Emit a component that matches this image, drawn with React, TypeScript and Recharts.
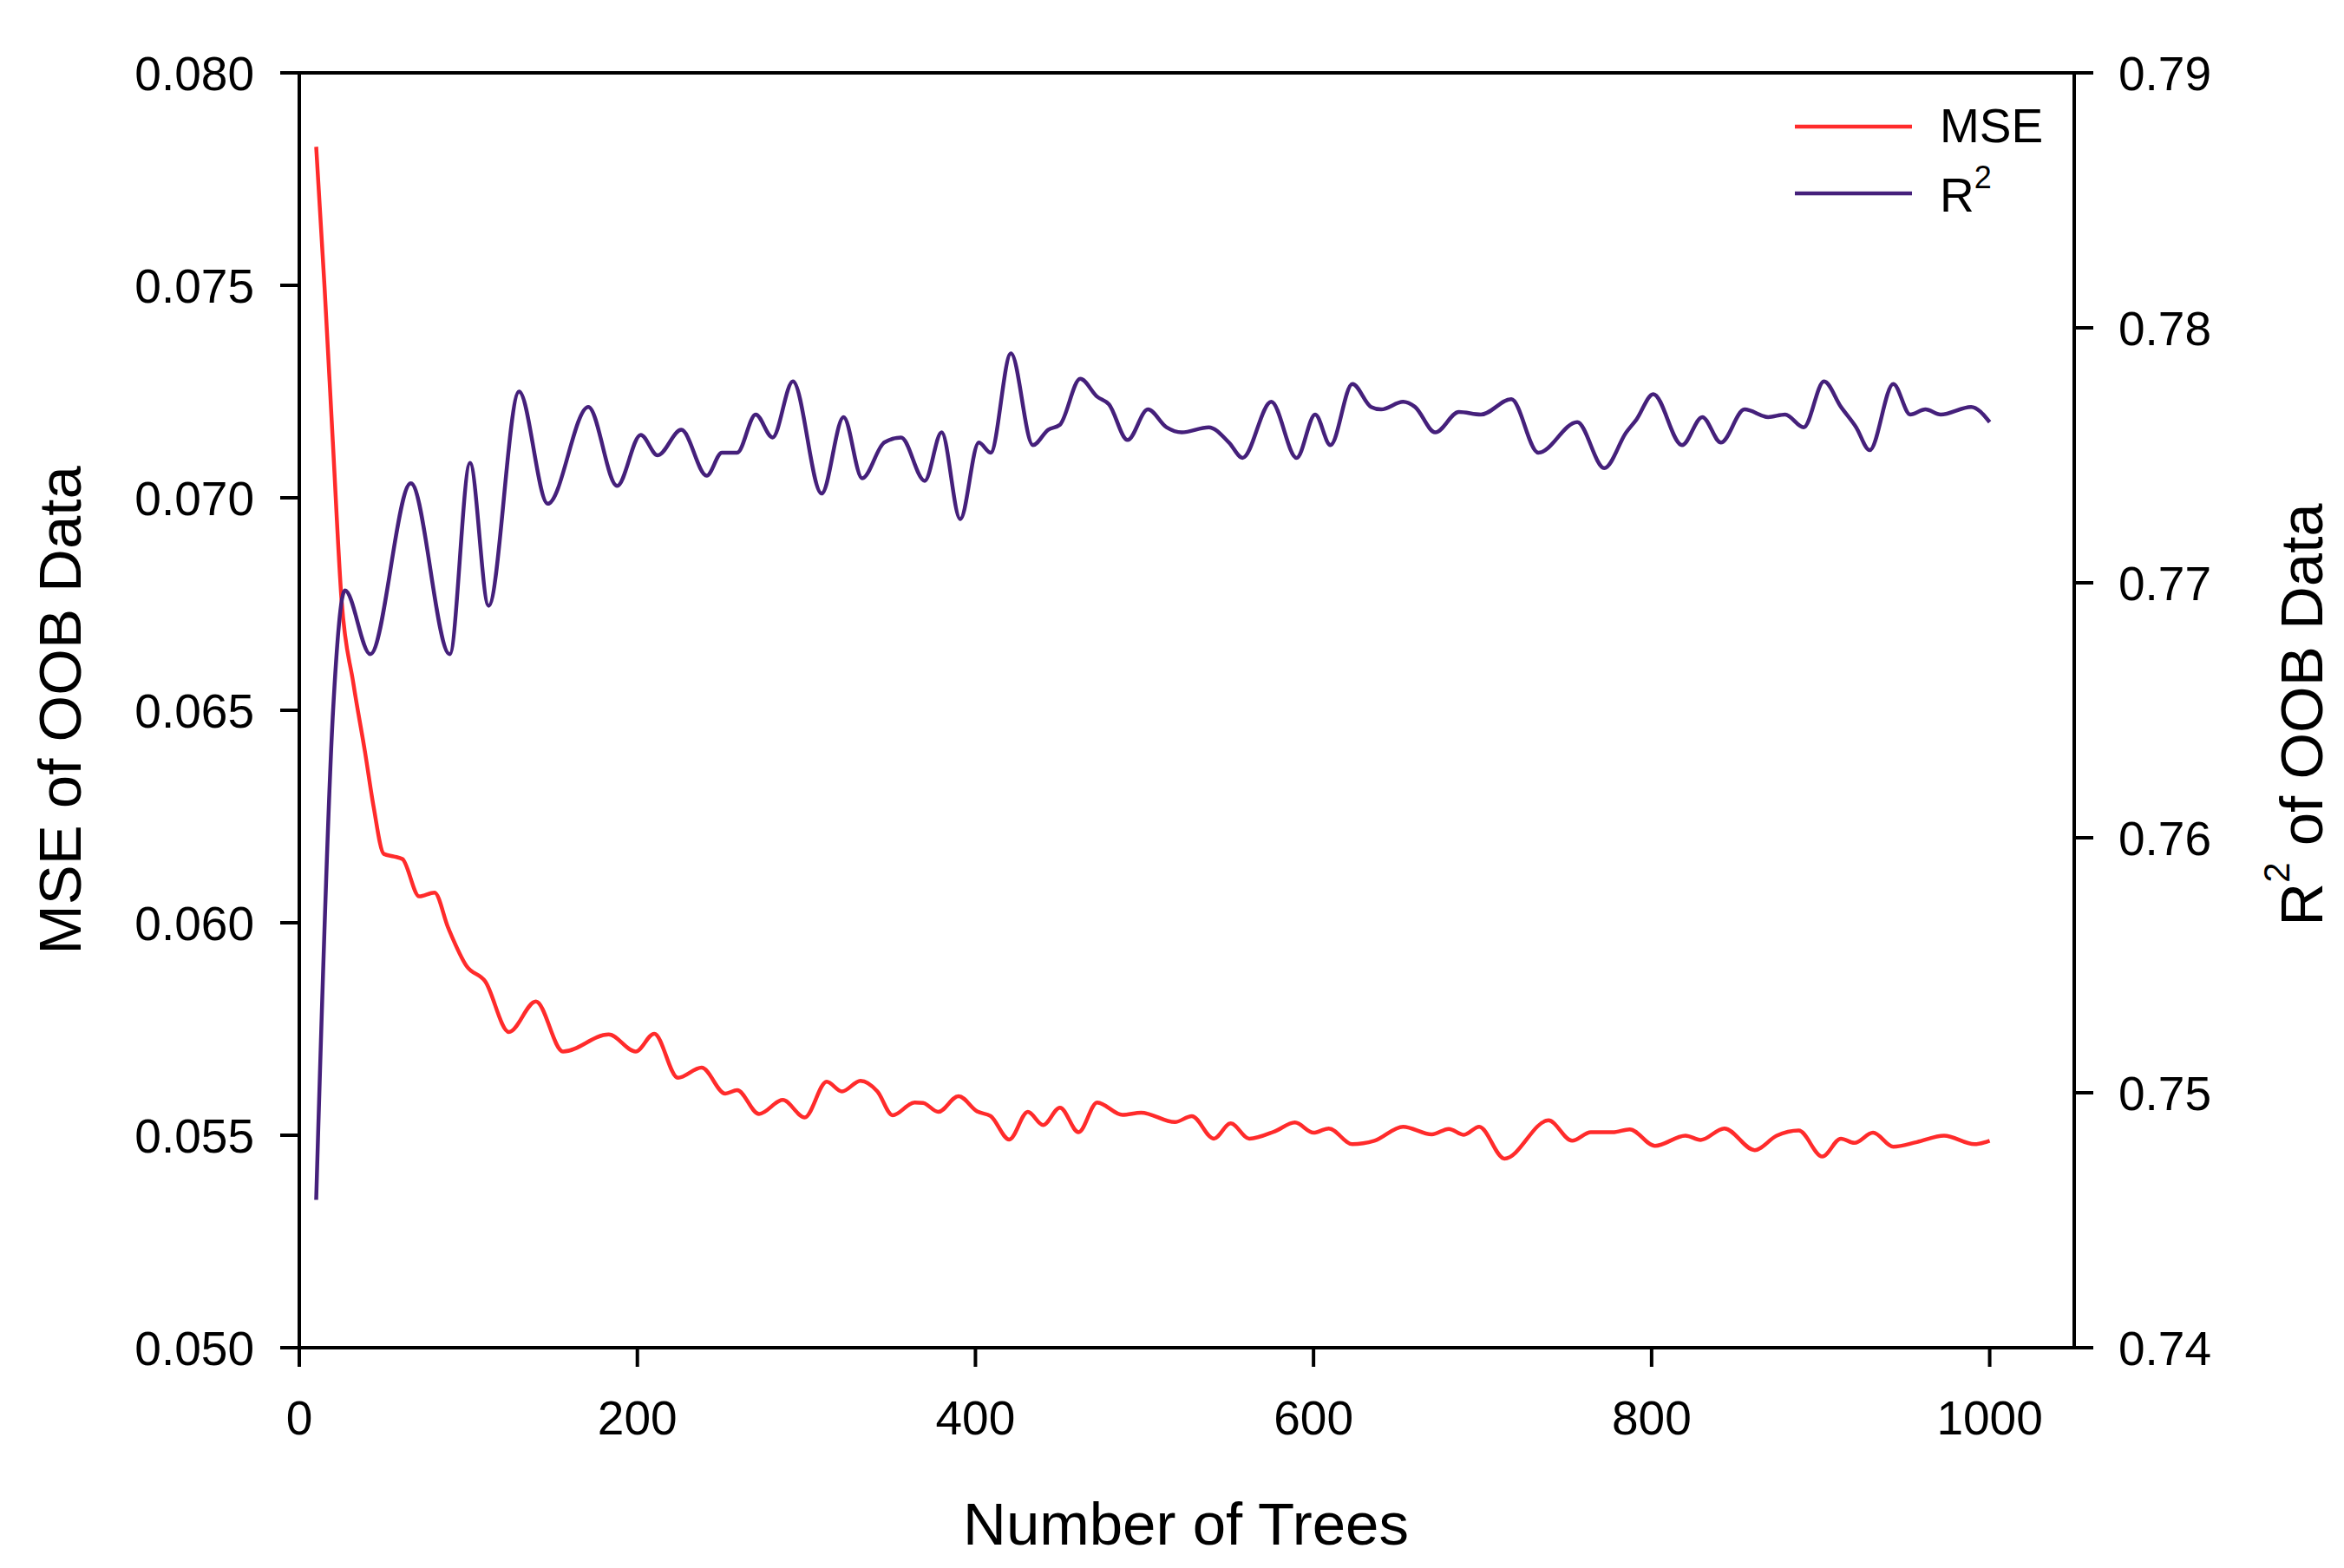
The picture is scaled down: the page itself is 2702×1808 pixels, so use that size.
import { LineChart, Line, XAxis, YAxis, ReferenceLine, Legend } from 'recharts'

// values
const mseTrees = [
  10, 15, 20, 25, 32, 39, 44, 50, 56, 61, 71, 80, 88, 99, 110, 124, 140, 156, 183, 199,
  210, 224, 238, 252, 259, 272, 286, 299, 312, 321, 332, 342, 351, 364, 369, 378, 390, 401, 409, 420,
  431, 440, 450, 461, 472, 487, 498, 518, 528, 541, 551, 562, 577, 589, 600, 609, 623, 636, 653, 670,
  680, 689, 698, 713, 739, 753, 764, 777, 787, 802, 820, 829, 843, 861, 874, 887, 901, 912, 920, 931,
  943, 957, 973, 991, 1000,
]
const mseValues = [
  0.07826, 0.07492, 0.0712, 0.0676, 0.06563, 0.06399, 0.06272, 0.06162, 0.06156, 0.0615,
  0.06062, 0.06071, 0.05989, 0.05898, 0.05862, 0.05743, 0.05815, 0.05697, 0.05737, 0.05697,
  0.05739, 0.05635, 0.05659, 0.05598, 0.05606, 0.0555, 0.05583, 0.05542, 0.05626, 0.05603,
  0.05628, 0.05603, 0.05547, 0.05577, 0.05576, 0.05555, 0.05592, 0.05556, 0.05545, 0.0549,
  0.05555, 0.05524, 0.05565, 0.05507, 0.05577, 0.05548, 0.05553, 0.05531, 0.05545, 0.05492,
  0.05528, 0.05492, 0.05509, 0.0553, 0.05506, 0.05516, 0.05479, 0.05487, 0.0552, 0.05502,
  0.05515, 0.05501, 0.0552, 0.05445, 0.05535, 0.05487, 0.05507, 0.05507, 0.05514, 0.05475,
  0.05499, 0.05489, 0.05516, 0.05465, 0.05499, 0.05511, 0.0545, 0.05492, 0.05482, 0.05506,
  0.05473, 0.05484, 0.05499, 0.05479, 0.05487,
]

const r2Trees = [
  10, 20, 27, 42, 66, 89, 101, 112, 130, 147, 171, 188, 202, 212, 226, 241, 250, 259, 270, 280,
  292, 309, 322, 333, 346, 356, 370, 380, 391, 402, 409, 421, 434, 443, 450, 462, 472, 479, 490, 502,
  513, 522, 538, 550, 558, 575, 590, 601, 610, 623, 634, 640, 653, 660, 672, 686, 699, 717, 733, 756,
  772, 785, 791, 801, 818, 830, 841, 855, 869, 879, 890, 902, 912, 921, 929, 943, 953, 962, 971, 989,
  1000,
]
const r2Values = [
  0.7458, 0.765, 0.7697, 0.7672, 0.7739, 0.7672, 0.7747, 0.7691, 0.7775, 0.7731,
  0.7769, 0.7738, 0.7758, 0.775, 0.776, 0.7742, 0.7751, 0.7751, 0.7766, 0.7757,
  0.7779, 0.7735, 0.7765, 0.7741, 0.7755, 0.7757, 0.774, 0.7759, 0.7725, 0.7755,
  0.7751, 0.779, 0.7754, 0.776, 0.7762, 0.778, 0.7773, 0.777, 0.7756, 0.7768,
  0.7761, 0.7759, 0.7761, 0.7755, 0.7749, 0.7771, 0.7749, 0.7766, 0.7754, 0.7778,
  0.7769, 0.7768, 0.7771, 0.7769, 0.7759, 0.7767, 0.7766, 0.7772, 0.7751, 0.7763,
  0.7745, 0.7759, 0.7764, 0.7774, 0.7754, 0.7765, 0.7755, 0.7768, 0.7765, 0.7766,
  0.7761, 0.7779, 0.7769, 0.7761, 0.7752, 0.7778, 0.7766, 0.7768, 0.7766, 0.7769,
  0.7763,
]

const xTicks = [0, 200, 400, 600, 800, 1000]
const mseTicks = [0.05, 0.055, 0.06, 0.065, 0.07, 0.075, 0.08]
const r2Ticks = [0.74, 0.75, 0.76, 0.77, 0.78, 0.79]

const msePoints = mseTrees.map((t, i) => ({ trees: t, mse: mseValues[i] }))
const r2Points = r2Trees.map((t, i) => ({ trees: t, r2: r2Values[i] }))

const FONT = '"Liberation Sans", Arial, sans-serif'
const MSE_COLOR = '#ff2b2b'
const R2_COLOR = '#45207b'
const AXIS = { stroke: '#000', strokeWidth: 4 }
const TICK = { fill: '#000', fontSize: 55, fontFamily: FONT }

function LegendBox() {
  return (
    <svg width={340} height={160} style={{ display: 'block' }}>
      <line x1={9} x2={144} y1={46} y2={46} stroke={MSE_COLOR} strokeWidth={4.5} />
      <text x={176} y={64} fontSize={55} fontFamily={FONT} fill="#000">
        MSE
      </text>
      <line x1={9} x2={144} y1={123} y2={123} stroke={R2_COLOR} strokeWidth={4.5} />
      <text x={176} y={144} fontSize={55} fontFamily={FONT} fill="#000">
        R<tspan fontSize={36} dy={-27}>2</tspan>
      </text>
    </svg>
  )
}

function LeftTitle() {
  return (
    <text
      x={93}
      y={819}
      transform="rotate(-90, 93, 819)"
      textAnchor="middle"
      fontSize={69}
      fontFamily={FONT}
      fill="#000"
    >
      MSE of OOB Data
    </text>
  )
}

function RightTitle() {
  return (
    <text
      x={2677}
      y={824}
      transform="rotate(-90, 2677, 824)"
      textAnchor="middle"
      fontSize={69}
      fontFamily={FONT}
      fill="#000"
    >
      R<tspan fontSize={42} dy={-38}>2</tspan>
      <tspan dy={38}> of OOB Data</tspan>
    </text>
  )
}

function BottomTitle() {
  return (
    <text x={1367} y={1781} textAnchor="middle" fontSize={69} fontFamily={FONT} fill="#000">
      Number of Trees
    </text>
  )
}

export default function App() {
  return (
    <div style={{ position: 'absolute', left: 0, top: 0, width: 2702, height: 1808, background: '#fff' }}>
      <LineChart width={2702} height={1808} margin={{ top: 84, right: 20, bottom: 20, left: 20 }}>
        <XAxis
          dataKey="trees"
          type="number"
          domain={[0, 1050]}
          ticks={xTicks}
          height={234}
          axisLine={AXIS}
          tickLine={AXIS}
          tickSize={22}
          tickMargin={39}
          tick={TICK}
          allowDuplicatedCategory={false}
          label={<BottomTitle />}
        />
        <YAxis
          yAxisId="mse"
          orientation="left"
          domain={[0.05, 0.08]}
          ticks={mseTicks}
          width={325}
          axisLine={AXIS}
          tickLine={AXIS}
          tickSize={22}
          tickMargin={30}
          tick={TICK}
          tickFormatter={(v: number) => v.toFixed(3)}
          label={<LeftTitle />}
        />
        <YAxis
          yAxisId="r2"
          orientation="right"
          domain={[0.74, 0.79]}
          ticks={r2Ticks}
          width={291}
          axisLine={AXIS}
          tickLine={AXIS}
          tickSize={22}
          tickMargin={29}
          tick={TICK}
          tickFormatter={(v: number) => v.toFixed(2)}
          label={<RightTitle />}
        />
        <ReferenceLine y={0.08} yAxisId="mse" stroke="#000" strokeWidth={4} />
        <Line
          data={msePoints}
          dataKey="mse"
          name="MSE"
          yAxisId="mse"
          type="monotone"
          stroke={MSE_COLOR}
          strokeWidth={4.5}
          dot={false}
          activeDot={false}
          isAnimationActive={false}
        />
        <Line
          data={r2Points}
          dataKey="r2"
          name="R2"
          yAxisId="r2"
          type="monotone"
          stroke={R2_COLOR}
          strokeWidth={4.5}
          dot={false}
          activeDot={false}
          isAnimationActive={false}
        />
        <Legend
          layout="vertical"
          align="center"
          verticalAlign="middle"
          content={() => <LegendBox />}
          wrapperStyle={{ position: 'absolute', left: 2060, top: 100, width: 340, height: 160 }}
        />
      </LineChart>
    </div>
  )
}
